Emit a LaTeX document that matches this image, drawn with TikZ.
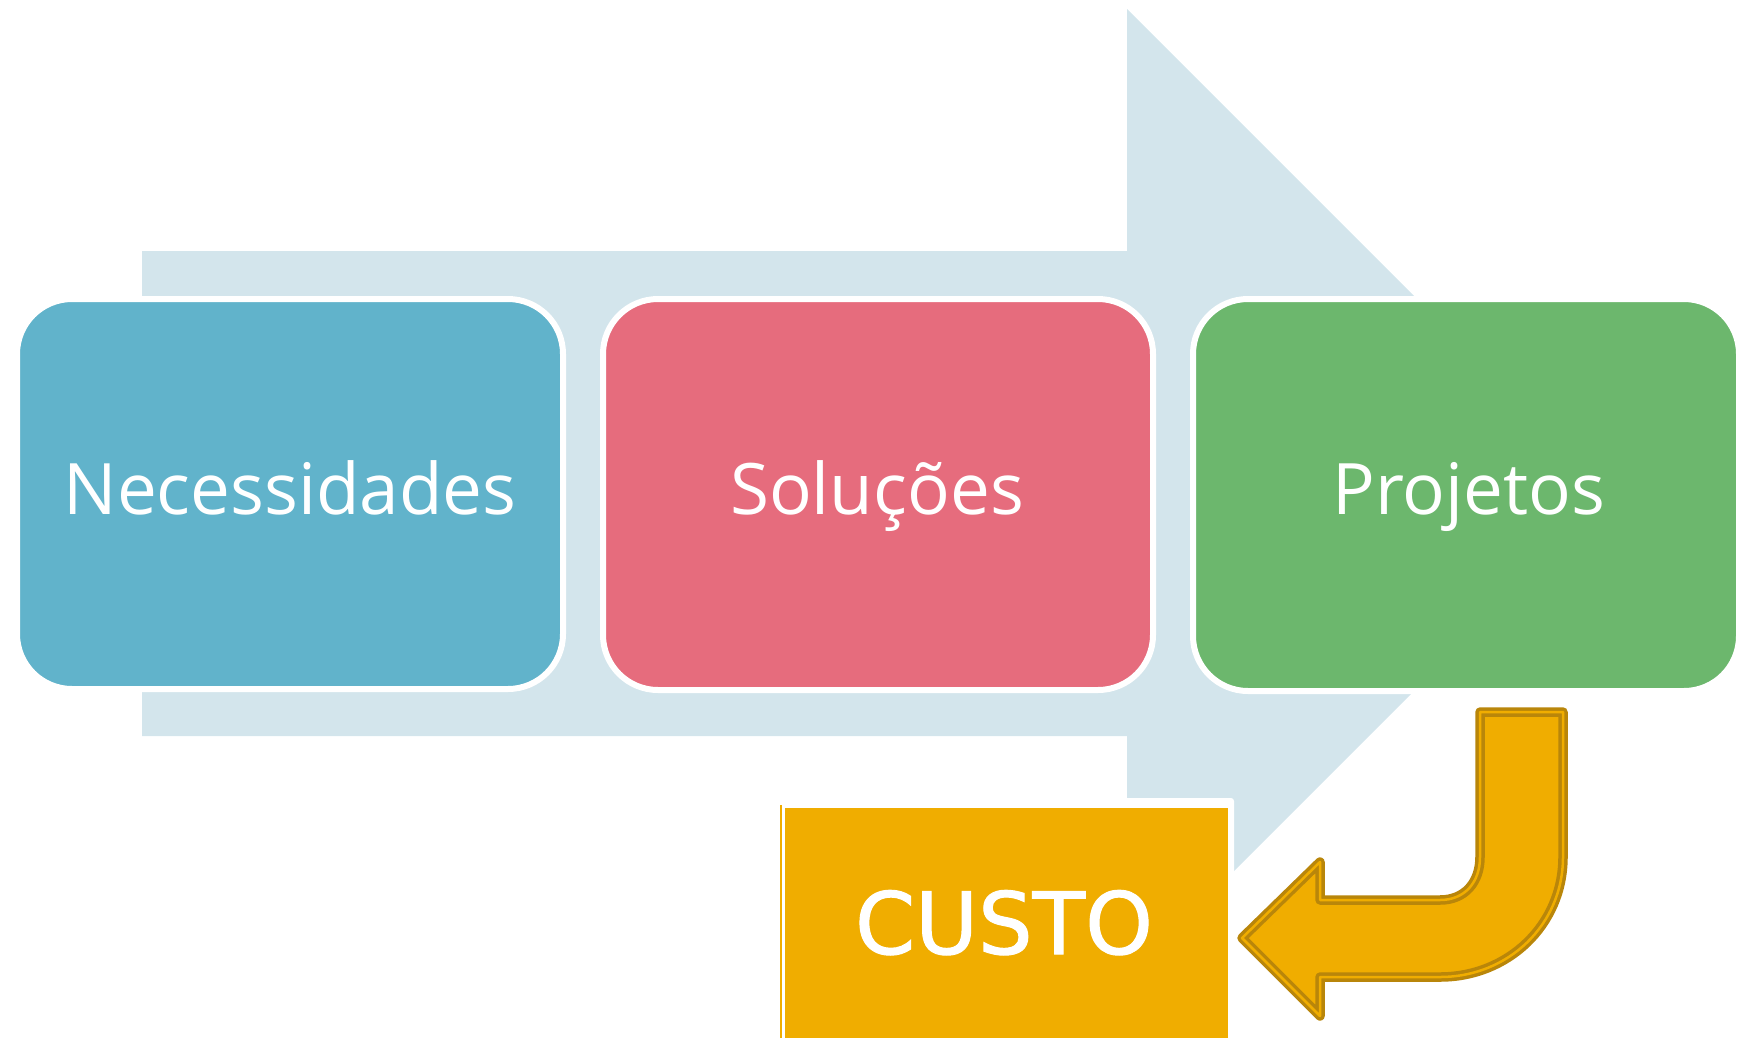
\documentclass[tikz,border=0pt]{standalone}
\usepackage{fontspec}
\newfontfamily\labelfont{Open Sans}
\newfontfamily\custofont[FakeBold=1.2]{DejaVu Sans}
\definecolor{bgarrow}{RGB}{211,229,236}
\definecolor{cblue}{RGB}{97,179,203}
\definecolor{cred}{RGB}{230,108,125}
\definecolor{cgreen}{RGB}{108,183,109}
\definecolor{corange}{RGB}{240,173,0}
\definecolor{cgold}{RGB}{185,134,10}
\tikzset{
  stagebox/.style={rectangle, rounded corners=55pt, draw=white, line width=6pt, inner sep=0pt, outer sep=0pt},
  stagetext/.style={anchor=base, text=white, inner sep=0pt, font=\labelfont\fontsize{71}{80}\selectfont},
  custotext/.style={anchor=base, text=white, inner sep=0pt, font=\custofont\fontsize{86}{96}\selectfont},
  bentarrow/.style={fill=corange, draw=cgold, line width=3.5pt, double=corange, double distance=2.5pt, line join=round}
}
\begin{document}
\begin{tikzpicture}[x=1pt,y=-1pt]
\useasboundingbox (0,0) rectangle (1740,1037);
% big background arrow
\fill[bgarrow] (142,251) -- (1127,251) -- (1127,9) -- (1611.5,493.5) -- (1127,978) -- (1127,736) -- (142,736) -- cycle;
% stage boxes
\node[stagebox, fill=cblue, minimum width=546pt, minimum height=390pt] (nec) at (290,494) {};
\node[stagebox, fill=cred, minimum width=550pt, minimum height=391pt] (sol) at (878,494.5) {};
\node[stagebox, fill=cgreen, minimum width=546pt, minimum height=392pt] (proj) at (1466,495) {};
\node[stagetext] (tnec) at (290,514) {Necessidades};
\node[stagetext] (tsol) at (877,514) {Soluções};
\node[stagetext] (tproj) at (1469,514) {Projetos};
% CUSTO box
\fill[white, rounded corners=3pt] (778,798) rectangle (1234,1045);
\node[rectangle, fill=corange, inner sep=0pt, outer sep=0pt, minimum width=443pt, minimum height=237pt] (custo) at (1006.5,926.5) {};
\draw[corange, line width=2pt] (781,805) -- (781,1040);
\node[custotext] (tcusto) at (1004,954) {CUSTO};
% bent arrow
\draw[bentarrow] (1242,938) -- (1320,862) -- (1320,900) -- (1440,900)
  .. controls (1465,900) and (1480,882) .. (1480,857)
  -- (1480,712) -- (1563,712) -- (1563,857)
  .. controls (1563,925) and (1508,977) .. (1440,977)
  -- (1320,977) -- (1320,1016) -- cycle;
\end{tikzpicture}
\end{document}
